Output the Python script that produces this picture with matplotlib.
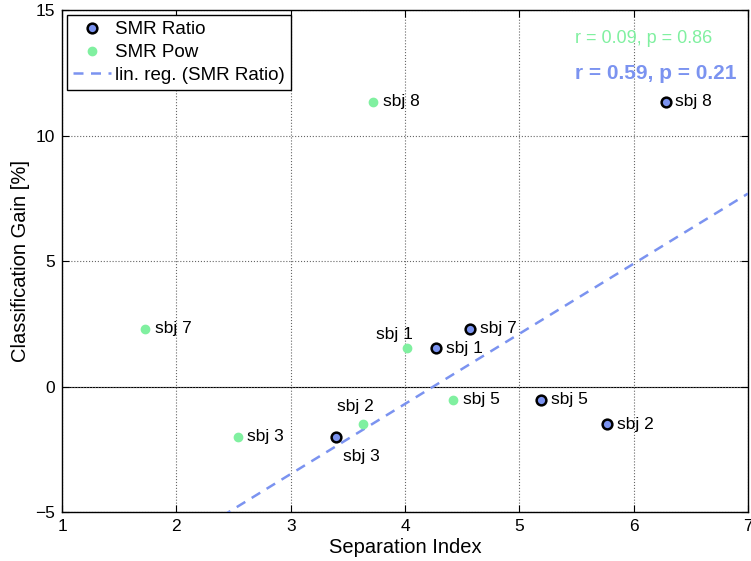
import numpy as np
import matplotlib
matplotlib.use("Agg")
import matplotlib.pyplot as plt

plt.rcParams['font.family'] = ['Liberation Sans', 'DejaVu Sans']

# classification gain per subject and separation index for both feature types
subjects = ["sbj 1", "sbj 2", "sbj 3", "sbj 5", "sbj 7", "sbj 8"]
gain = [1.53, -1.51, -2.0, -0.53, 2.3, 11.35]
sep_ratio = [4.27, 5.765, 3.40, 5.19, 4.57, 6.28]
sep_pow = [4.016, 3.63, 2.537, 4.42, 1.73, 3.72]

blue = "#7b93f0"
green = "#80f0a0"

fig = plt.figure(figsize=(7.51, 5.61), dpi=100)
ax = fig.add_axes([0.0826, 0.0873, 0.9134, 0.8948])

ax.axhline(0, color="black", lw=0.8, zorder=1)

ax.plot(sep_ratio, gain, "o", ms=7, mfc=blue, mec="black", mew=1.8,
        ls="none", label="SMR Ratio", zorder=4)
ax.plot(sep_pow, gain, "o", ms=6, mfc=green, mec=green,
        ls="none", label="SMR Pow", zorder=4)

# linear regression over the SMR ratio points
slope, icpt = np.polyfit(sep_ratio, gain, 1)
xs = np.array([1, 7])
ax.plot(xs, slope * xs + icpt, "--", color=blue, lw=1.8, dashes=(4, 3),
        label="lin. reg. (SMR Ratio)", zorder=3)

# subject labels next to the markers
fs = 12.5
for s, x, y in zip(subjects, sep_ratio, gain):
    if s == "sbj 3":
        ax.annotate(s, (x, y), xytext=(4.5, -8.5), textcoords="offset points",
                    ha="left", va="top", fontsize=fs)
    else:
        ax.annotate(s, (x, y), xytext=(7, 0), textcoords="offset points",
                    ha="left", va="center", fontsize=fs)

for s, x, y in zip(subjects, sep_pow, gain):
    if s == "sbj 1":
        ax.annotate(s, (x, y), xytext=(4, 4.5), textcoords="offset points",
                    ha="right", va="bottom", fontsize=fs)
    elif s == "sbj 2":
        ax.annotate(s, (x, y), xytext=(8, 7.5), textcoords="offset points",
                    ha="right", va="bottom", fontsize=fs)
    else:
        ax.annotate(s, (x, y), xytext=(7, 0), textcoords="offset points",
                    ha="left", va="center", fontsize=fs)

ax.text(5.49, 13.86, "r = 0.09, p = 0.86", color=green, fontsize=13,
        ha="left", va="center")
ax.text(5.49, 12.47, "r = 0.59, p = 0.21", color=blue, fontsize=15,
        fontweight="bold", ha="left", va="center")

ax.set_xlim(1, 7)
ax.set_ylim(-5, 15)
ax.set_xticks(range(1, 8))
ax.set_yticks([-5, 0, 5, 10, 15])
ax.set_yticklabels(["\u22125", "0", "5", "10", "15"])
ax.grid(True, ls=":", color="#666666", lw=0.8)
ax.tick_params(direction="in", top=True, right=True, labelsize=12.5,
               length=5, pad=5)
for sp in ax.spines.values():
    sp.set_linewidth(1.0)

ax.set_xlabel("Separation Index", fontsize=14.5, labelpad=3)
ax.set_ylabel("Classification Gain [%]", fontsize=14.5, labelpad=4)

leg = ax.legend(loc="upper left", fontsize=13.5, fancybox=False, framealpha=1,
                edgecolor="black", borderaxespad=0.25, handlelength=2.0,
                handletextpad=0.2, borderpad=0.35, labelspacing=0.3)
leg.get_frame().set_linewidth(1.0)

fig.savefig("out.png", dpi=100)
